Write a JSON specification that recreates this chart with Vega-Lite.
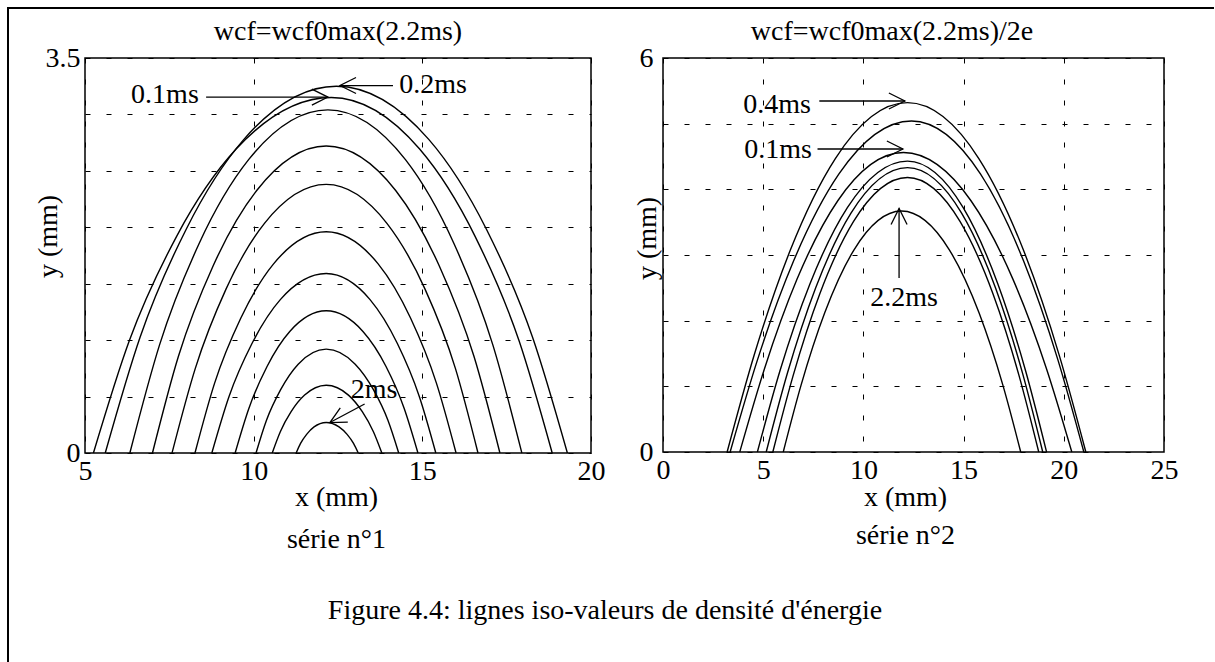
{
  "$schema": "https://vega.github.io/schema/vega-lite/v6.json",
  "background": "white",
  "padding": {"left": 5, "top": 5, "right": 0, "bottom": 0},
  "bounds": "flush",
  "spacing": 72,
  "config": {
    "view": {"stroke": "black", "strokeWidth": 1.5},
    "axis": {"domain": false, "ticks": false, "grid": true, "gridColor": "black", "gridDash": [5, 16], "gridWidth": 1, "gridOpacity": 1,
      "labelFont": "Liberation Serif", "labelFontSize": 28, "labelColor": "black",
      "titleFont": "Liberation Serif", "titleFontSize": 28, "titleFontWeight": "normal", "titleColor": "black",
      "labelFlush": false, "labelOverlap": false, "labelBound": false},
    "text": {"font": "Liberation Serif", "fontSize": 28, "color": "black"}
  },
  "datasets": {
    "left_curves": [
      {"curve": "0.2ms", "x": 5.6, "y": 0}, {"curve": "0.2ms", "x": 6.63, "y": 1.024}, {"curve": "0.2ms", "x": 8.0, "y": 1.983}, {"curve": "0.2ms", "x": 9.71, "y": 2.779}, {"curve": "0.2ms", "x": 12.45, "y": 3.25}, {"curve": "0.2ms", "x": 15.19, "y": 2.779}, {"curve": "0.2ms", "x": 16.9, "y": 1.983}, {"curve": "0.2ms", "x": 18.27, "y": 1.024}, {"curve": "0.2ms", "x": 19.3, "y": 0},
      {"curve": "0.1ms", "x": 5.25, "y": 0}, {"curve": "0.1ms", "x": 6.31, "y": 0.992}, {"curve": "0.1ms", "x": 7.72, "y": 1.922}, {"curve": "0.1ms", "x": 9.48, "y": 2.693}, {"curve": "0.1ms", "x": 12.3, "y": 3.15}, {"curve": "0.1ms", "x": 14.92, "y": 2.693}, {"curve": "0.1ms", "x": 16.56, "y": 1.922}, {"curve": "0.1ms", "x": 17.87, "y": 0.992}, {"curve": "0.1ms", "x": 18.85, "y": 0},
      {"curve": "c3", "x": 6.33, "y": 0}, {"curve": "c3", "x": 7.21, "y": 0.958}, {"curve": "c3", "x": 8.38, "y": 1.854}, {"curve": "c3", "x": 9.85, "y": 2.599}, {"curve": "c3", "x": 12.2, "y": 3.04}, {"curve": "c3", "x": 14.5, "y": 2.599}, {"curve": "c3", "x": 15.94, "y": 1.854}, {"curve": "c3", "x": 17.09, "y": 0.958}, {"curve": "c3", "x": 17.95, "y": 0},
      {"curve": "c4", "x": 7.0, "y": 0}, {"curve": "c4", "x": 7.77, "y": 0.857}, {"curve": "c4", "x": 8.8, "y": 1.659}, {"curve": "c4", "x": 10.09, "y": 2.326}, {"curve": "c4", "x": 12.15, "y": 2.72}, {"curve": "c4", "x": 14.21, "y": 2.326}, {"curve": "c4", "x": 15.5, "y": 1.659}, {"curve": "c4", "x": 16.53, "y": 0.857}, {"curve": "c4", "x": 17.3, "y": 0},
      {"curve": "c5", "x": 7.58, "y": 0}, {"curve": "c5", "x": 8.27, "y": 0.75}, {"curve": "c5", "x": 9.18, "y": 1.452}, {"curve": "c5", "x": 10.32, "y": 2.035}, {"curve": "c5", "x": 12.15, "y": 2.38}, {"curve": "c5", "x": 13.95, "y": 2.035}, {"curve": "c5", "x": 15.08, "y": 1.452}, {"curve": "c5", "x": 15.98, "y": 0.75}, {"curve": "c5", "x": 16.65, "y": 0},
      {"curve": "c6", "x": 8.26, "y": 0}, {"curve": "c6", "x": 8.84, "y": 0.617}, {"curve": "c6", "x": 9.62, "y": 1.196}, {"curve": "c6", "x": 10.59, "y": 1.676}, {"curve": "c6", "x": 12.15, "y": 1.96}, {"curve": "c6", "x": 13.69, "y": 1.676}, {"curve": "c6", "x": 14.65, "y": 1.196}, {"curve": "c6", "x": 15.42, "y": 0.617}, {"curve": "c6", "x": 16.0, "y": 0},
      {"curve": "c7", "x": 8.76, "y": 0}, {"curve": "c7", "x": 9.27, "y": 0.501}, {"curve": "c7", "x": 9.95, "y": 0.97}, {"curve": "c7", "x": 10.79, "y": 1.359}, {"curve": "c7", "x": 12.15, "y": 1.59}, {"curve": "c7", "x": 13.45, "y": 1.359}, {"curve": "c7", "x": 14.26, "y": 0.97}, {"curve": "c7", "x": 14.91, "y": 0.501}, {"curve": "c7", "x": 15.4, "y": 0},
      {"curve": "c8", "x": 9.45, "y": 0}, {"curve": "c8", "x": 9.86, "y": 0.397}, {"curve": "c8", "x": 10.4, "y": 0.769}, {"curve": "c8", "x": 11.07, "y": 1.077}, {"curve": "c8", "x": 12.15, "y": 1.26}, {"curve": "c8", "x": 13.24, "y": 1.077}, {"curve": "c8", "x": 13.92, "y": 0.769}, {"curve": "c8", "x": 14.46, "y": 0.397}, {"curve": "c8", "x": 14.87, "y": 0},
      {"curve": "c9", "x": 10.07, "y": 0}, {"curve": "c9", "x": 10.38, "y": 0.29}, {"curve": "c9", "x": 10.8, "y": 0.561}, {"curve": "c9", "x": 11.32, "y": 0.787}, {"curve": "c9", "x": 12.15, "y": 0.92}, {"curve": "c9", "x": 13.01, "y": 0.787}, {"curve": "c9", "x": 13.55, "y": 0.561}, {"curve": "c9", "x": 13.98, "y": 0.29}, {"curve": "c9", "x": 14.3, "y": 0},
      {"curve": "c10", "x": 10.55, "y": 0}, {"curve": "c10", "x": 10.79, "y": 0.189}, {"curve": "c10", "x": 11.11, "y": 0.366}, {"curve": "c10", "x": 11.51, "y": 0.513}, {"curve": "c10", "x": 12.15, "y": 0.6}, {"curve": "c10", "x": 12.81, "y": 0.513}, {"curve": "c10", "x": 13.22, "y": 0.366}, {"curve": "c10", "x": 13.55, "y": 0.189}, {"curve": "c10", "x": 13.8, "y": 0},
      {"curve": "2ms", "x": 11.26, "y": 0}, {"curve": "2ms", "x": 11.39, "y": 0.085}, {"curve": "2ms", "x": 11.57, "y": 0.165}, {"curve": "2ms", "x": 11.79, "y": 0.231}, {"curve": "2ms", "x": 12.15, "y": 0.27}, {"curve": "2ms", "x": 12.53, "y": 0.231}, {"curve": "2ms", "x": 12.77, "y": 0.165}, {"curve": "2ms", "x": 12.96, "y": 0.085}, {"curve": "2ms", "x": 13.1, "y": 0}
    ],
    "right_curves": [
      {"curve": "0.4ms", "x": 3.2, "y": 0}, {"curve": "0.4ms", "x": 4.55, "y": 1.476}, {"curve": "0.4ms", "x": 6.35, "y": 3.072}, {"curve": "0.4ms", "x": 8.6, "y": 4.469}, {"curve": "0.4ms", "x": 12.2, "y": 5.32}, {"curve": "0.4ms", "x": 15.76, "y": 4.469}, {"curve": "0.4ms", "x": 17.99, "y": 3.072}, {"curve": "0.4ms", "x": 19.77, "y": 1.476}, {"curve": "0.4ms", "x": 21.1, "y": 0},
      {"curve": "b", "x": 3.35, "y": 0}, {"curve": "b", "x": 4.71, "y": 1.399}, {"curve": "b", "x": 6.52, "y": 2.911}, {"curve": "b", "x": 8.78, "y": 4.234}, {"curve": "b", "x": 12.4, "y": 5.04}, {"curve": "b", "x": 15.84, "y": 4.234}, {"curve": "b", "x": 17.99, "y": 2.911}, {"curve": "b", "x": 19.71, "y": 1.399}, {"curve": "b", "x": 21.0, "y": 0},
      {"curve": "0.1ms", "x": 3.83, "y": 0}, {"curve": "0.1ms", "x": 5.06, "y": 1.265}, {"curve": "0.1ms", "x": 6.69, "y": 2.633}, {"curve": "0.1ms", "x": 8.73, "y": 3.83}, {"curve": "0.1ms", "x": 12.0, "y": 4.56}, {"curve": "0.1ms", "x": 15.36, "y": 3.83}, {"curve": "0.1ms", "x": 17.46, "y": 2.633}, {"curve": "0.1ms", "x": 19.14, "y": 1.265}, {"curve": "0.1ms", "x": 20.4, "y": 0},
      {"curve": "d", "x": 4.71, "y": 0}, {"curve": "d", "x": 5.83, "y": 1.229}, {"curve": "d", "x": 7.33, "y": 2.558}, {"curve": "d", "x": 9.2, "y": 3.721}, {"curve": "d", "x": 12.2, "y": 4.43}, {"curve": "d", "x": 14.98, "y": 3.721}, {"curve": "d", "x": 16.71, "y": 2.558}, {"curve": "d", "x": 18.1, "y": 1.229}, {"curve": "d", "x": 19.14, "y": 0},
      {"curve": "e", "x": 5.15, "y": 0}, {"curve": "e", "x": 6.21, "y": 1.202}, {"curve": "e", "x": 7.62, "y": 2.501}, {"curve": "e", "x": 9.38, "y": 3.637}, {"curve": "e", "x": 12.2, "y": 4.33}, {"curve": "e", "x": 14.9, "y": 3.637}, {"curve": "e", "x": 16.59, "y": 2.501}, {"curve": "e", "x": 17.94, "y": 1.202}, {"curve": "e", "x": 18.95, "y": 0},
      {"curve": "f", "x": 5.48, "y": 0}, {"curve": "f", "x": 6.49, "y": 1.16}, {"curve": "f", "x": 7.83, "y": 2.414}, {"curve": "f", "x": 9.51, "y": 3.511}, {"curve": "f", "x": 12.2, "y": 4.18}, {"curve": "f", "x": 14.82, "y": 3.511}, {"curve": "f", "x": 16.46, "y": 2.414}, {"curve": "f", "x": 17.77, "y": 1.16}, {"curve": "f", "x": 18.75, "y": 0},
      {"curve": "2.2ms", "x": 6.0, "y": 0}, {"curve": "2.2ms", "x": 6.89, "y": 1.018}, {"curve": "2.2ms", "x": 8.07, "y": 2.119}, {"curve": "2.2ms", "x": 9.54, "y": 3.083}, {"curve": "2.2ms", "x": 11.9, "y": 3.67}, {"curve": "2.2ms", "x": 14.28, "y": 3.083}, {"curve": "2.2ms", "x": 15.77, "y": 2.119}, {"curve": "2.2ms", "x": 16.96, "y": 1.018}, {"curve": "2.2ms", "x": 17.85, "y": 0}
    ],
    "left_arrows": [
      {"label": "0.1ms", "x": 8.59, "y": 3.154, "x2": 12.2, "y2": 3.154, "dir": "right"},
      {"label": "0.2ms", "x": 14.13, "y": 3.256, "x2": 12.56, "y2": 3.256, "dir": "left"},
      {"label": "2ms", "x": 13.29, "y": 0.434, "x2": 12.26, "y2": 0.27, "dir": "downleft"}
    ],
    "left_notes": [
      {"label": "0.1ms", "x": 7.37, "y": 3.172},
      {"label": "0.2ms", "x": 15.32, "y": 3.261},
      {"label": "2ms", "x": 13.57, "y": 0.558}
    ],
    "right_arrows": [
      {"label": "0.4ms", "x": 7.8, "y": 5.345, "x2": 12.07, "y2": 5.345, "dir": "right"},
      {"label": "0.1ms", "x": 7.71, "y": 4.614, "x2": 11.97, "y2": 4.614, "dir": "right"},
      {"label": "2.2ms", "x": 11.78, "y": 2.65, "x2": 11.78, "y2": 3.707, "dir": "up"}
    ],
    "right_notes": [
      {"label": "0.4ms", "x": 5.69, "y": 5.284},
      {"label": "0.1ms", "x": 5.74, "y": 4.599},
      {"label": "2.2ms", "x": 12.03, "y": 2.345}
    ]
  },
  "hconcat": [
    {
      "width": 506,
      "height": 395,
      "layer": [
        {
          "data": {"name": "left_curves"},
          "mark": {"type": "line", "interpolate": "monotone", "color": "black", "strokeWidth": 1.4},
          "encoding": {
            "x": {"field": "x", "type": "quantitative", "scale": {"domain": [5, 20], "nice": false, "zero": false},
              "axis": {"values": [5, 10, 15, 20], "format": "~g", "labelPadding": 4,
                "title": ["x (mm)", "série n°1"], "titleX": 251, "titleY": 30, "titleBaseline": "top", "titleAlign": "center", "titleLineHeight": 42}},
            "y": {"field": "y", "type": "quantitative", "scale": {"domain": [0, 3.5], "nice": false, "zero": false},
              "axis": {"values": [0, 0.5, 1, 1.5, 2, 2.5, 3, 3.5], "format": "~g", "labelPadding": 5,
                "labelExpr": "datum.value == 0 || datum.value == 3.5 ? datum.label : ''",
                "title": "y (mm)", "titleX": -37, "titleY": 178, "titleAngle": -90, "titleAlign": "center", "titleBaseline": "middle"}},
            "detail": {"field": "curve", "type": "nominal"}
          }
        },
        {
          "data": {"name": "left_arrows"},
          "mark": {"type": "rule", "color": "black", "strokeWidth": 1.3},
          "encoding": {
            "x": {"field": "x", "type": "quantitative"},
            "y": {"field": "y", "type": "quantitative"},
            "x2": {"field": "x2"}, "y2": {"field": "y2"}
          }
        },
        {
          "data": {"name": "left_arrows"},
          "transform": [{"filter": "datum.dir == 'right'"}],
          "mark": {"type": "point", "shape": "M-1,-0.5L0,0L-1,0.5", "filled": false, "color": "black", "strokeWidth": 1.3, "size": 1024, "angle": 0, "opacity": 1},
          "encoding": {"x": {"field": "x2", "type": "quantitative"}, "y": {"field": "y2", "type": "quantitative"}}
        },
        {
          "data": {"name": "left_arrows"},
          "transform": [{"filter": "datum.dir == 'left'"}],
          "mark": {"type": "point", "shape": "M-1,-0.5L0,0L-1,0.5", "filled": false, "color": "black", "strokeWidth": 1.3, "size": 1024, "angle": 180, "opacity": 1},
          "encoding": {"x": {"field": "x2", "type": "quantitative"}, "y": {"field": "y2", "type": "quantitative"}}
        },
        {
          "data": {"name": "left_arrows"},
          "transform": [{"filter": "datum.dir == 'downleft'"}],
          "mark": {"type": "point", "shape": "M-1,-0.5L0,0L-1,0.5", "filled": false, "color": "black", "strokeWidth": 1.3, "size": 1024, "angle": 152, "opacity": 1},
          "encoding": {"x": {"field": "x2", "type": "quantitative"}, "y": {"field": "y2", "type": "quantitative"}}
        },
        {
          "data": {"name": "left_notes"},
          "mark": {"type": "text", "align": "center", "baseline": "middle", "font": "Liberation Serif", "fontSize": 28, "color": "black"},
          "encoding": {
            "x": {"field": "x", "type": "quantitative"},
            "y": {"field": "y", "type": "quantitative"},
            "text": {"field": "label"}
          }
        },
        {
          "data": {"values": [{}]},
          "mark": {"type": "text", "align": "center", "baseline": "middle", "font": "Liberation Serif", "fontSize": 28, "color": "black"},
          "encoding": {
            "x": {"datum": 12.5, "type": "quantitative"},
            "y": {"datum": 3.73, "type": "quantitative"},
            "text": {"value": "wcf=wcf0max(2.2ms)"}
          }
        },
        {
          "data": {"values": [{}]},
          "mark": {"type": "text", "align": "center", "baseline": "middle", "font": "Liberation Serif", "fontSize": 28, "color": "black"},
          "encoding": {
            "x": {"datum": 20.415, "type": "quantitative"},
            "y": {"datum": -1.4, "type": "quantitative"},
            "text": {"value": "Figure 4.4: lignes iso-valeurs de densité d'énergie"}
          }
        },
        {
          "data": {"values": [{}]},
          "mark": {"type": "rule", "color": "black", "strokeWidth": 2, "strokeCap": "square"},
          "encoding": {
            "x": {"datum": 2.7174, "type": "quantitative"},
            "x2": {"datum": 38.439},
            "y": {"datum": 3.943, "type": "quantitative"}
          }
        },
        {
          "data": {"values": [{}]},
          "mark": {"type": "rule", "color": "black", "strokeWidth": 2, "strokeCap": "square"},
          "encoding": {
            "x": {"datum": 2.7174, "type": "quantitative"},
            "y": {"datum": 3.943, "type": "quantitative"},
            "y2": {"datum": -1.843}
          }
        }
      ]
    },
    {
      "width": 501,
      "height": 394,
      "layer": [
        {
          "data": {"name": "right_curves"},
          "mark": {"type": "line", "interpolate": "monotone", "color": "black", "strokeWidth": 1.4},
          "encoding": {
            "x": {"field": "x", "type": "quantitative", "scale": {"domain": [0, 25], "nice": false, "zero": false},
              "axis": {"values": [0, 5, 10, 15, 20, 25], "format": "~g", "labelPadding": 4,
                "title": ["x (mm)", "série n°2"], "titleX": 242, "titleY": 31, "titleBaseline": "top", "titleAlign": "center", "titleLineHeight": 38}},
            "y": {"field": "y", "type": "quantitative", "scale": {"domain": [0, 6], "nice": false, "zero": false},
              "axis": {"values": [0, 1, 2, 3, 4, 5, 6], "format": "~g", "labelPadding": 10,
                "labelExpr": "datum.value == 0 || datum.value == 6 ? datum.label : ''",
                "title": "y (mm)", "titleX": -16, "titleY": 180, "titleAngle": -90, "titleAlign": "center", "titleBaseline": "middle"}},
            "detail": {"field": "curve", "type": "nominal"}
          }
        },
        {
          "data": {"name": "right_arrows"},
          "mark": {"type": "rule", "color": "black", "strokeWidth": 1.3},
          "encoding": {
            "x": {"field": "x", "type": "quantitative"},
            "y": {"field": "y", "type": "quantitative"},
            "x2": {"field": "x2"}, "y2": {"field": "y2"}
          }
        },
        {
          "data": {"name": "right_arrows"},
          "transform": [{"filter": "datum.dir == 'right'"}],
          "mark": {"type": "point", "shape": "M-1,-0.5L0,0L-1,0.5", "filled": false, "color": "black", "strokeWidth": 1.3, "size": 1024, "angle": 0, "opacity": 1},
          "encoding": {"x": {"field": "x2", "type": "quantitative"}, "y": {"field": "y2", "type": "quantitative"}}
        },
        {
          "data": {"name": "right_arrows"},
          "transform": [{"filter": "datum.dir == 'up'"}],
          "mark": {"type": "point", "shape": "M-1,-0.5L0,0L-1,0.5", "filled": false, "color": "black", "strokeWidth": 1.3, "size": 1024, "angle": 270, "opacity": 1},
          "encoding": {"x": {"field": "x2", "type": "quantitative"}, "y": {"field": "y2", "type": "quantitative"}}
        },
        {
          "data": {"name": "right_notes"},
          "mark": {"type": "text", "align": "center", "baseline": "middle", "font": "Liberation Serif", "fontSize": 28, "color": "black"},
          "encoding": {
            "x": {"field": "x", "type": "quantitative"},
            "y": {"field": "y", "type": "quantitative"},
            "text": {"field": "label"}
          }
        },
        {
          "data": {"values": [{}]},
          "mark": {"type": "text", "align": "center", "baseline": "middle", "font": "Liberation Serif", "fontSize": 28, "color": "black"},
          "encoding": {
            "x": {"datum": 11.43, "type": "quantitative"},
            "y": {"datum": 6.396, "type": "quantitative"},
            "text": {"value": "wcf=wcf0max(2.2ms)/2e"}
          }
        }
      ]
    }
  ]
}
